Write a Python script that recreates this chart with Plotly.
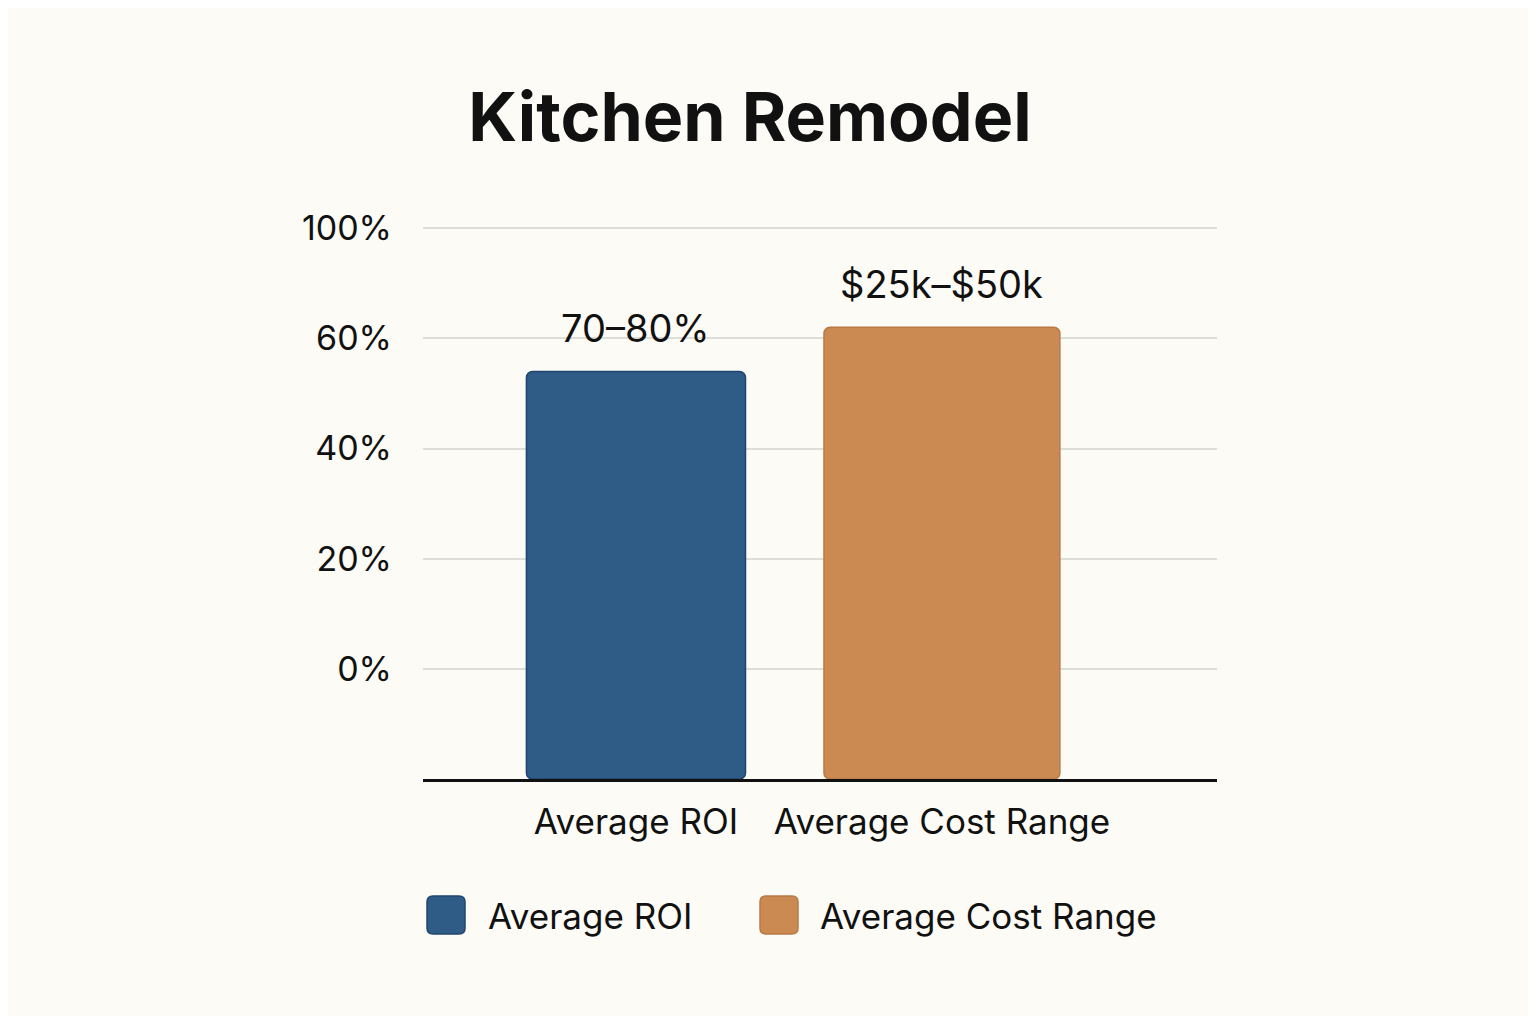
import plotly.graph_objects as go

# Data
categories = ["Average ROI", "Average Cost Range"]
bar_values = [54, 62]          # bar tops on the (irregularly labelled) percent axis
bar_base = -20
bar_labels = ["70–80%", "$25k–$50k"]
tick_vals = [0, 20, 40, 60, 80]
tick_text = ["0%", "20%", "40%", "60%", "100%"]

fill_colors = ["#2F5B87", "#CB8A52"]
line_colors = ["#21456E", "#B97A45"]
BG = "#FDFBF6"
FONT = "Inter, Roboto, sans-serif"

OFF = 8  # page body margin
W, H = 1536 - 2 * OFF, 1024 - 2 * OFF
PL, PR, PT, PB = 423 - OFF, 1217 - OFF, 228 - OFF, 779 - OFF  # plot box in figure px
Y0, Y1 = -20, 80.4
PW = PR - PL
px_per_unit = (779 - 228) / 100.0
PT_adj = PB - (Y1 - Y0) * px_per_unit

fig = go.Figure()
fig.add_trace(go.Bar(
    x=categories, y=[v - bar_base for v in bar_values], base=bar_base,
    marker=dict(color=fill_colors, line=dict(color=line_colors, width=1.5), cornerradius=6),
    width=[0.716, 0.771], showlegend=False, hoverinfo="skip",
))

for c, v, t in zip(categories, bar_values, bar_labels):
    fig.add_annotation(x=c, y=v, text=t, showarrow=False, yanchor="bottom", yshift=18,
                       font=dict(size=38, color="#111", family=FONT))

PH = PB - PT_adj


def px(xpix):
    return (xpix - OFF - PL) / PW


def py(ypix):
    return (PB - (ypix - OFF)) / PH


def rounded_rect(x0, y0, x1, y1, r):
    return (f"M {px(x0 + r)},{py(y0)} L {px(x1 - r)},{py(y0)} "
            f"Q {px(x1)},{py(y0)} {px(x1)},{py(y0 + r)} L {px(x1)},{py(y1 - r)} "
            f"Q {px(x1)},{py(y1)} {px(x1 - r)},{py(y1)} L {px(x0 + r)},{py(y1)} "
            f"Q {px(x0)},{py(y1)} {px(x0)},{py(y1 - r)} L {px(x0)},{py(y0 + r)} "
            f"Q {px(x0)},{py(y0)} {px(x0 + r)},{py(y0)} Z")


legend_items = [(categories[0], fill_colors[0], line_colors[0], 427, 488),
                (categories[1], fill_colors[1], line_colors[1], 760, 820)]
for name, fc, lc, x0, tx in legend_items:
    fig.add_shape(type="path", xref="paper", yref="paper",
                  path=rounded_rect(x0, 896, x0 + 38, 934, 6),
                  fillcolor=fc, line=dict(color=lc, width=1.5))
    fig.add_annotation(xref="paper", yref="paper", x=px(tx - 2), y=py(916),
                       text=name, showarrow=False, xanchor="left", yanchor="middle",
                       font=dict(size=35, color="#111", family=FONT))

fig.update_layout(
    width=W, height=H,
    paper_bgcolor=BG, plot_bgcolor=BG,
    margin=dict(l=PL, r=W - PR, t=PT_adj, b=H - PB, pad=0),
    title=dict(text="<b>Kitchen Remodel</b>", x=(750 - OFF) / W, xanchor="center",
               y=1 - (117 - OFF) / H, yanchor="middle",
               font=dict(size=68, color="#111", family=FONT)),
    font=dict(family=FONT, color="#111"),
)
fig.update_xaxes(range=[-0.696, 1.899], showline=True, linecolor="#111", linewidth=3,
                 showgrid=False, ticks="", tickfont=dict(size=35, color="#111"),
                 ticklabelstandoff=10)
fig.update_yaxes(range=[Y0, Y1], tickvals=tick_vals, ticktext=tick_text,
                 showgrid=True, gridcolor="#DDDDDA", gridwidth=2, zeroline=False,
                 showline=False, ticks="", tickfont=dict(size=34, color="#111"),
                 ticklabelstandoff=30)

fig.write_html("out.html")
